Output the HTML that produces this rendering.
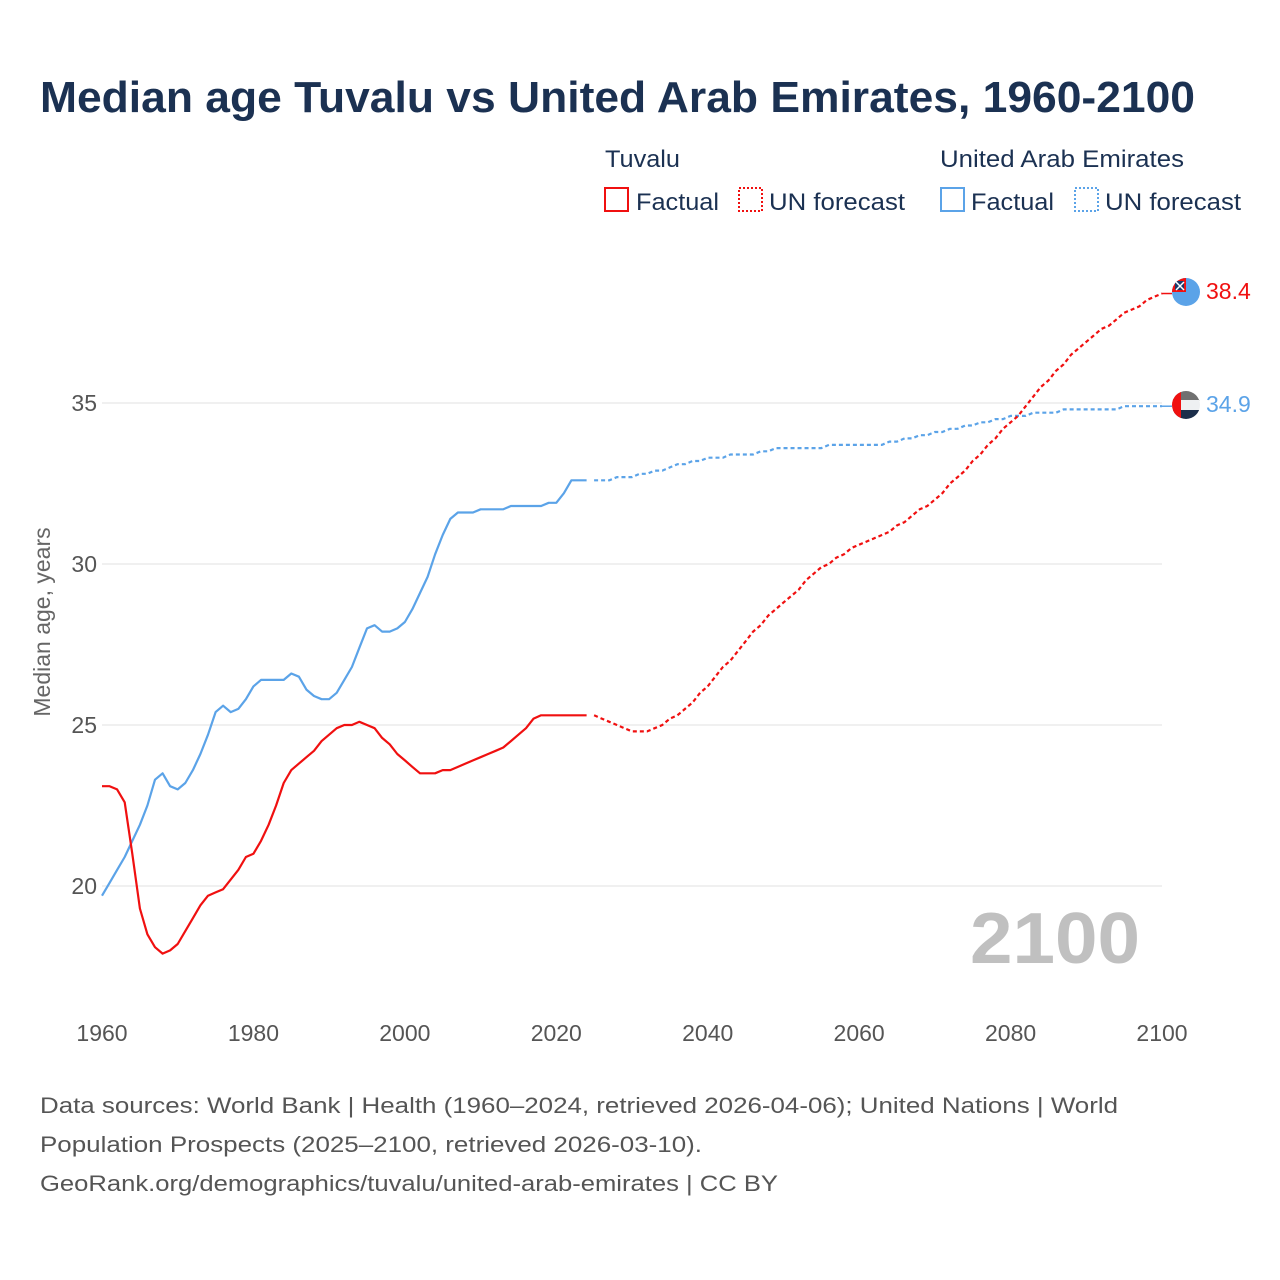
<!DOCTYPE html>
<html><head><meta charset="utf-8"><style>
body{margin:0;background:#fff}
svg{display:block;font-family:"Liberation Sans",sans-serif}
</style></head><body>
<svg id="chart" width="1280" height="1280" viewBox="0 0 1280 1280">
<text x="40" y="112" font-size="44" font-weight="bold" fill="#1b3152" textLength="1155" lengthAdjust="spacingAndGlyphs">Median age Tuvalu vs United Arab Emirates, 1960-2100</text>
<g font-size="24" fill="#1b3152">
<text x="605" y="167" textLength="75" lengthAdjust="spacingAndGlyphs">Tuvalu</text>
<text x="940" y="167" textLength="244" lengthAdjust="spacingAndGlyphs">United Arab Emirates</text>
<g><rect x="605" y="188" width="23" height="23" fill="none" stroke="#f01010" stroke-width="2"/><text x="636" y="210" textLength="83" lengthAdjust="spacingAndGlyphs">Factual</text></g>
<g><rect x="739" y="188" width="23" height="23" fill="none" stroke="#f01010" stroke-width="2" stroke-dasharray="2 2"/><text x="769" y="210" textLength="136" lengthAdjust="spacingAndGlyphs">UN forecast</text></g>
<g><rect x="941" y="188" width="23" height="23" fill="none" stroke="#5ba3e8" stroke-width="2"/><text x="971" y="210" textLength="83" lengthAdjust="spacingAndGlyphs">Factual</text></g>
<g><rect x="1075" y="188" width="23" height="23" fill="none" stroke="#5ba3e8" stroke-width="2" stroke-dasharray="2 2"/><text x="1105" y="210" textLength="136" lengthAdjust="spacingAndGlyphs">UN forecast</text></g>
</g>
<g id="grid"></g>
<g id="axes"></g>
<text x="50" y="622" font-size="23" fill="#666" transform="rotate(-90 50 622)" text-anchor="middle">Median age, years</text>
<text x="1140" y="963" font-size="72" font-weight="bold" fill="#c0c0c0" text-anchor="end" textLength="170" lengthAdjust="spacingAndGlyphs">2100</text>
<g id="series"></g>
<g>
<clipPath id="tc"><circle cx="1186" cy="292" r="14"/></clipPath>
<g clip-path="url(#tc)"><rect x="1172" y="278" width="28" height="28" fill="#5ba3e8"/><rect x="1172" y="278" width="14" height="14" fill="#f01010"/><rect x="1175" y="281" width="9" height="9" fill="#1b3a6b"/><path d="M1176,282 L1184,290 M1184,282 L1176,290" stroke="#fff" stroke-width="1.5"/></g></g>
<g>
<clipPath id="uc"><circle cx="1186" cy="405" r="14"/></clipPath>
<g clip-path="url(#uc)"><rect x="1172" y="391" width="28" height="10" fill="#707070"/><rect x="1172" y="400" width="28" height="10" fill="#eef0f2"/><rect x="1172" y="410" width="28" height="10" fill="#1b2e4a"/><rect x="1172" y="391" width="9" height="28" fill="#f01010"/></g></g>
<text x="1206" y="299" font-size="23" fill="#f01010">38.4</text>
<text x="1206" y="412" font-size="23" fill="#5ba3e8">34.9</text>
<g font-size="22" fill="#555">
<text x="40" y="1113" textLength="1078" lengthAdjust="spacingAndGlyphs">Data sources: World Bank | Health (1960–2024, retrieved 2026-04-06); United Nations | World</text>
<text x="40" y="1152" textLength="662" lengthAdjust="spacingAndGlyphs">Population Prospects (2025–2100, retrieved 2026-03-10).</text>
<text x="40" y="1191" textLength="738" lengthAdjust="spacingAndGlyphs">GeoRank.org/demographics/tuvalu/united-arab-emirates | CC BY</text>
</g>
</svg>
<script>
const tuvaluFactual=[23.1,23.1,23.0,22.6,21.0,19.3,18.5,18.1,17.9,18.0,18.2,18.6,19.0,19.4,19.7,19.8,19.9,20.2,20.5,20.9,21.0,21.4,21.9,22.5,23.2,23.6,23.8,24.0,24.2,24.5,24.7,24.9,25.0,25.0,25.1,25.0,24.9,24.6,24.4,24.1,23.9,23.7,23.5,23.5,23.5,23.6,23.6,23.7,23.8,23.9,24.0,24.1,24.2,24.3,24.5,24.7,24.9,25.2,25.3,25.3,25.3,25.3,25.3,25.3,25.3];
const tuvaluForecast=[25.3,25.2,25.1,25.0,24.9,24.8,24.8,24.8,24.9,25.0,25.2,25.3,25.5,25.7,26.0,26.2,26.5,26.8,27.0,27.3,27.6,27.9,28.1,28.4,28.6,28.8,29.0,29.2,29.5,29.7,29.9,30.0,30.2,30.3,30.5,30.6,30.7,30.8,30.9,31.0,31.2,31.3,31.5,31.7,31.8,32.0,32.2,32.5,32.7,32.9,33.2,33.4,33.7,33.9,34.2,34.4,34.6,34.9,35.2,35.5,35.7,36.0,36.2,36.5,36.7,36.9,37.1,37.3,37.4,37.6,37.8,37.9,38.0,38.2,38.3,38.4];
const uaeFactual=[19.7,20.1,20.5,20.9,21.4,21.9,22.5,23.3,23.5,23.1,23.0,23.2,23.6,24.1,24.7,25.4,25.6,25.4,25.5,25.8,26.2,26.4,26.4,26.4,26.4,26.6,26.5,26.1,25.9,25.8,25.8,26.0,26.4,26.8,27.4,28.0,28.1,27.9,27.9,28.0,28.2,28.6,29.1,29.6,30.3,30.9,31.4,31.6,31.6,31.6,31.7,31.7,31.7,31.7,31.8,31.8,31.8,31.8,31.8,31.9,31.9,32.2,32.6,32.6,32.6];
const uaeForecast=[32.6,32.6,32.6,32.7,32.7,32.7,32.8,32.8,32.9,32.9,33.0,33.1,33.1,33.2,33.2,33.3,33.3,33.3,33.4,33.4,33.4,33.4,33.5,33.5,33.6,33.6,33.6,33.6,33.6,33.6,33.6,33.7,33.7,33.7,33.7,33.7,33.7,33.7,33.7,33.8,33.8,33.9,33.9,34.0,34.0,34.1,34.1,34.2,34.2,34.3,34.3,34.4,34.4,34.5,34.5,34.6,34.6,34.6,34.7,34.7,34.7,34.7,34.8,34.8,34.8,34.8,34.8,34.8,34.8,34.8,34.9,34.9,34.9,34.9,34.9,34.9];
const yTicks=[20,25,30,35];
const xTicks=[1960,1980,2000,2020,2040,2060,2080,2100];
const factualStart=1960, forecastStart=2024;
const X=yr=>102+(yr-1960)*(1060/140);
const Y=v=>403-(v-35)*32.2;
const NS='http://www.w3.org/2000/svg';
const grid=document.getElementById('grid'),axes=document.getElementById('axes'),series=document.getElementById('series');
yTicks.forEach(t=>{
 const l=document.createElementNS(NS,'line');
 
 
 l.setAttribute('x1',X(1960));l.setAttribute('x2',X(2100));l.setAttribute('y1',Y(t));l.setAttribute('y2',Y(t));
 l.setAttribute('stroke','#ececec');l.setAttribute('stroke-width','1.5');grid.appendChild(l);
 const tx=document.createElementNS(NS,'text');
 
 
 tx.setAttribute('x',97);tx.setAttribute('y',Y(t)+8);tx.setAttribute('text-anchor','end');tx.setAttribute('font-size','23');tx.setAttribute('fill','#555');tx.textContent=t;axes.appendChild(tx);
});
xTicks.forEach(t=>{
 const tx=document.createElementNS(NS,'text');
 
 
 tx.setAttribute('x',X(t));tx.setAttribute('y',1041);tx.setAttribute('text-anchor','middle');tx.setAttribute('font-size','23');tx.setAttribute('fill','#555');tx.textContent=t;axes.appendChild(tx);
});
function line(vals,start,color,dash,name){
 const p=document.createElementNS(NS,'polyline');
 
 
 p.setAttribute('points',vals.map((v,i)=>X(start+i).toFixed(1)+','+Y(v).toFixed(1)).join(' '));
 p.setAttribute('fill','none');p.setAttribute('stroke',color);p.setAttribute('stroke-width','2.2');p.setAttribute('stroke-linejoin','round');
 if(dash)p.setAttribute('stroke-dasharray','4 3');
 series.appendChild(p);
}
function connector(vals,color,name){
 const last=vals[vals.length-1];
 const l=document.createElementNS(NS,'line');
 
 
 l.setAttribute('x1',X(2100));l.setAttribute('x2',1172);l.setAttribute('y1',Y(last));l.setAttribute('y2',Y(last));
 l.setAttribute('stroke',color);l.setAttribute('stroke-width','1.5');series.appendChild(l);
}
line(uaeFactual,factualStart,'#5ba3e8',false,'uae-factual-line');
line(uaeForecast,forecastStart+1,'#5ba3e8',true,'uae-forecast-line');
line(tuvaluFactual,factualStart,'#f01010',false,'tuvalu-factual-line');
line(tuvaluForecast,forecastStart+1,'#f01010',true,'tuvalu-forecast-line');
connector(uaeForecast,'#5ba3e8','uae-flag-connector');
connector(tuvaluForecast,'#f01010','tuvalu-flag-connector');
</script>
</body></html>
